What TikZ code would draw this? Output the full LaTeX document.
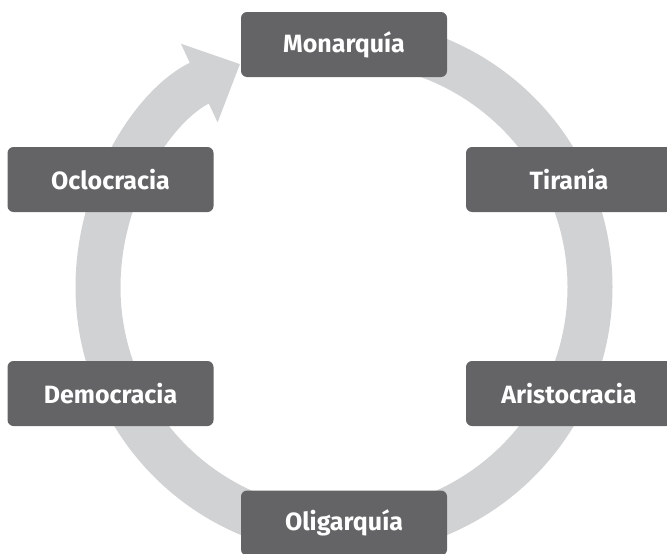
\documentclass[tikz,border=0pt]{standalone}
\usepackage{fontspec}
\setmainfont{Fira Sans}
\usepackage{tikz}
\usetikzlibrary{arrows.meta}

\definecolor{boxgray}{HTML}{646466}
\definecolor{ringgray}{HTML}{D1D2D4}

\begin{document}
\begin{tikzpicture}[x=1pt, y=-1pt,
    stage/.style={rectangle, rounded corners=6pt, fill=boxgray, text=white,
        minimum width=206pt, minimum height=65pt,
        font=\fontsize{25}{30}\selectfont\bfseries},
    ring/.style={draw=ringgray, line width=45pt,
        -{Triangle[length=45pt, width=84pt, color=ringgray]}}]
            \useasboundingbox (0, 0) rectangle (667, 554);

            % Cycle
            \coordinate (O) at (344, 287);
            \draw[ring] (O) ++(-90:246) arc[start angle=-90, end angle=245, radius=246];

            % Nodes
            \node[stage] (mon) at (344, 44.5) {Monarquía};
            \node[stage] (tir) at (569, 179.5) {Tiranía};
            \node[stage] (ari) at (569, 393.5) {Aristocracia};
            \node[stage] (oli) at (344, 523) {Oligarquía};
            \node[stage] (dem) at (110.5, 393.5) {Democracia};
            \node[stage] (ocl) at (110.5, 179.5) {Oclocracia};
        \end{tikzpicture}
\end{document}
